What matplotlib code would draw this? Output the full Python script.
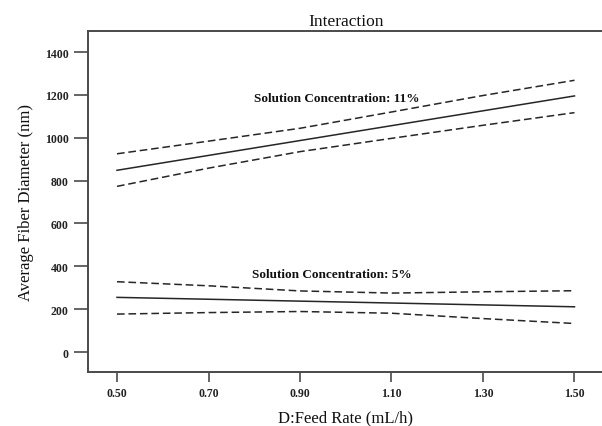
import numpy as np
import matplotlib
matplotlib.use("Agg")
import matplotlib.pyplot as plt

plt.rcParams['font.family'] = ['Liberation Serif', 'DejaVu Serif']

# feed rate (mL/h)
feed_rate = [0.50, 0.70, 0.90, 1.10, 1.30, 1.50]
feed_ends = [0.50, 1.50]

# solution concentration 11%
c11_mean = [848, 1195]
c11_upper = [925, 984, 1044, 1120, 1197, 1268]
c11_lower = [773, 858, 935, 997, 1058, 1117]

# solution concentration 5%
c5_mean = [255, 211]
c5_upper = [328, 309, 285, 275, 281, 286]
c5_lower = [177, 184, 189, 181, 156, 133]

xticks = [0.50, 0.70, 0.90, 1.10, 1.30, 1.50]
yticks = [0, 200, 400, 600, 800, 1000, 1200, 1400]

line_col = '#262626'
frame_col = '#4a4a4a'

fig = plt.figure(figsize=(6.02, 4.27), dpi=100)
ax = fig.add_axes([88/602, 1 - 373/427, (604-88)/602, (373-32)/427])

ax.plot(feed_ends, c11_mean, color=line_col, lw=1.1)
ax.plot(feed_rate, c11_upper, color=line_col, lw=1.1, dashes=(5, 2.5))
ax.plot(feed_rate, c11_lower, color=line_col, lw=1.1, dashes=(5, 2.5))

ax.plot(feed_ends, c5_mean, color=line_col, lw=1.1)
ax.plot(feed_rate, c5_upper, color=line_col, lw=1.1, dashes=(5, 2.5))
ax.plot(feed_rate, c5_lower, color=line_col, lw=1.1, dashes=(5, 2.5))

ax.text(0.98, 1185, 'Solution Concentration: 11%', ha='center', va='center',
        fontsize=9.5, fontweight='bold', color='#111111')
ax.text(0.97, 364, 'Solution Concentration: 5%', ha='center', va='center',
        fontsize=9.5, fontweight='bold', color='#111111')

ax.set_xlim(0.4366, 1.5645)
ax.set_ylim(-93.3, 1498)

ax.set_xticks(xticks)
ax.set_xticklabels(['%.2f' % v for v in xticks])
ax.set_yticks(yticks)
ax.set_yticklabels([str(v) for v in yticks])
for lab in ax.get_xticklabels() + ax.get_yticklabels():
    lab.set_fontweight('bold')

ax.tick_params(axis='x', direction='out', length=7, width=1.2, color=frame_col,
               labelsize=8.5, pad=4, labelcolor='#222222')
ax.tick_params(axis='y', direction='out', length=10, width=1.2, color=frame_col,
               labelsize=8.5, pad=4, labelcolor='#222222')

for side in ['left', 'bottom', 'top']:
    ax.spines[side].set_color(frame_col)
    ax.spines[side].set_linewidth(1.4)
ax.spines['right'].set_visible(False)

ax.set_title('Interaction', fontsize=12.5, pad=4, color='#111111')
ax.set_xlabel('D:Feed Rate (mL/h)', fontsize=12, labelpad=7, color='#111111')
ax.set_ylabel('Average Fiber Diameter (nm)', fontsize=12, labelpad=8, color='#111111')

fig.savefig('out.png', dpi=100)
